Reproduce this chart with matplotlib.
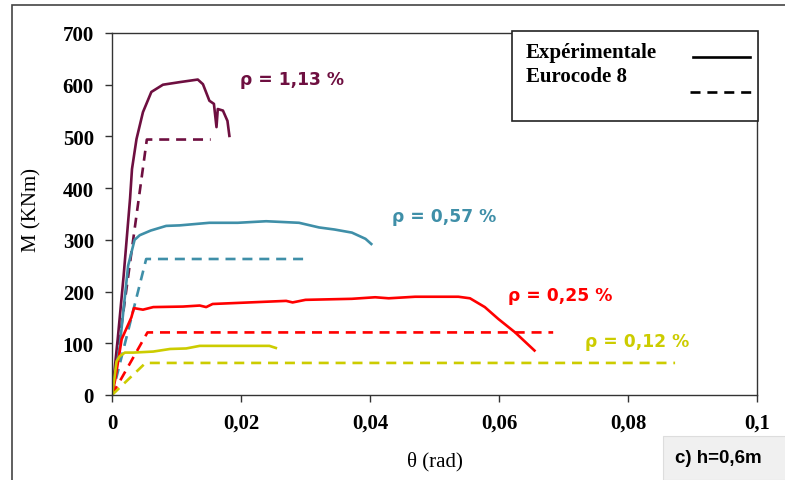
import matplotlib
matplotlib.use("Agg")
import matplotlib.pyplot as plt
from matplotlib.patches import Rectangle
from matplotlib.lines import Line2D

# ---- data ----
th_113 = [0, 0.0009, 0.0018, 0.0028, 0.0031, 0.0038, 0.0048, 0.0061, 0.0079, 0.0105,
          0.0133, 0.0141, 0.0151, 0.0158, 0.0162, 0.0164, 0.0172, 0.0179, 0.0182]
M_113 = [0, 110, 230, 380, 437, 495, 547, 586, 600, 605,
         610, 601, 569, 563, 518, 553, 550, 530, 501]

th_057 = [0, 0.0012, 0.0025, 0.0035, 0.0043, 0.0060, 0.0084, 0.0105, 0.0151, 0.0195,
          0.0239, 0.0290, 0.0321, 0.0345, 0.0372, 0.0393, 0.0402]
M_057 = [0, 95, 250, 300, 309, 318, 327, 328, 333, 333,
         336, 333, 324, 320, 314, 302, 292]

th_025 = [0, 0.0005, 0.0015, 0.0030, 0.0034, 0.0048, 0.0064, 0.0110, 0.0136, 0.0146,
          0.0156, 0.0213, 0.0270, 0.0280, 0.0300, 0.0372, 0.0408, 0.0429, 0.0470, 0.0537,
          0.0555, 0.0578, 0.0599, 0.0625, 0.0655]
M_025 = [0, 30, 108, 150, 168, 165, 170, 171, 173, 170,
         176, 179, 182, 179, 184, 186, 189, 187, 190, 190,
         187, 170, 147, 121, 86]

th_012 = [0, 0.0004, 0.0007, 0.0012, 0.0020, 0.0033, 0.0064, 0.0090, 0.0115, 0.0136,
          0.0187, 0.0244, 0.0254]
M_012 = [0, 35, 65, 75, 82, 82, 84, 89, 90, 95, 95, 95, 91]

# Eurocode 8 bilinear: (yield rotation, yield moment, end rotation)
ec8_113 = (0.0054, 494, 0.0153)
ec8_057 = (0.0053, 263, 0.0302)
ec8_025 = (0.0055, 121, 0.0684)
ec8_012 = (0.0052, 62, 0.0873)

labels = ["ρ = 1,13 %", "ρ = 0,57 %", "ρ = 0,25 %", "ρ = 0,12 %"]
label_pos = [(0.0199, 611), (0.0434, 346), (0.0614, 193), (0.0733, 104)]
colors = ["#6E0F40", "#3F8FA8", "#FF0000", "#CCCC00"]

xticks = [0, 0.02, 0.04, 0.06, 0.08, 0.1]
xticklabels = ["0", "0,02", "0,04", "0,06", "0,08", "0,1"]
yticks = [0, 100, 200, 300, 400, 500, 600, 700]

# ---- figure ----
W, H = 785, 481
fig = plt.figure(figsize=(W / 100, H / 100), dpi=100)
ax = fig.add_axes([112 / W, (H - 396) / H, (757 - 112) / W, (396 - 34) / H])

serif = ["Liberation Serif", "DejaVu Serif"]

exp = [(th_113, M_113), (th_057, M_057), (th_025, M_025), (th_012, M_012)]
ecs = [ec8_113, ec8_057, ec8_025, ec8_012]
for (t, m), (ty, my, te), c, lab, pos in zip(exp, ecs, colors, labels, label_pos):
    ax.plot(t, m, color=c, lw=1.9, solid_joinstyle="round")
    ax.plot([0, ty, te], [0, my, my], color=c, lw=1.9, dashes=[3.8, 2.6])
    ax.text(pos[0], pos[1], lab, color=c, fontsize=12.3, fontweight="bold",
            family="DejaVu Sans", ha="left", va="center")

ax.set_xlim(0, 0.1)
ax.set_ylim(0, 700)
ax.set_xticks(xticks)
ax.set_xticklabels(xticklabels)
ax.set_yticks(yticks)
for lbl in ax.get_xticklabels() + ax.get_yticklabels():
    lbl.set_family(serif)
    lbl.set_fontweight("bold")
    lbl.set_fontsize(15)
ax.tick_params(direction="out", length=5, width=1, color="#333333", pad=8)
for s in ax.spines.values():
    s.set_color("#333333")
    s.set_linewidth(1.0)

ax.set_ylabel("M (KNm)", family=serif, fontsize=15)
ax.set_xlabel("θ (rad)", family=serif, fontsize=15)
ax.yaxis.set_label_coords(-0.11, 0.514)
ax.xaxis.set_label_coords(0.5, -0.155)

# legend box drawn manually
lx0, lx1 = (512 - 112) / 645, (758 - 112) / 645
ly0, ly1 = (396 - 122) / 362, (396 - 32) / 362
ax.add_patch(Rectangle((lx0, ly0), lx1 - lx0, ly1 - ly0, transform=ax.transAxes,
                       facecolor="white", edgecolor="#222222", lw=1.2, clip_on=False, zorder=5))
ax.text((526 - 112) / 645, (396 - 53) / 362, "Expérimentale", transform=ax.transAxes,
        family=serif, fontweight="bold", fontsize=15, va="center", ha="left", zorder=6)
ax.text((526 - 112) / 645, (396 - 77) / 362, "Eurocode 8", transform=ax.transAxes,
        family=serif, fontweight="bold", fontsize=15, va="center", ha="left", zorder=6)
ax.add_line(Line2D([(693 - 112) / 645, (750 - 112) / 645], [(396 - 58) / 362] * 2,
                   transform=ax.transAxes, color="black", lw=1.9, clip_on=False, zorder=6))
ax.add_line(Line2D([(690 - 112) / 645, (751 - 112) / 645], [(396 - 93) / 362] * 2,
                   transform=ax.transAxes, color="black", lw=1.9, dashes=[3.8, 2.6],
                   clip_on=False, zorder=6))

# outer frame
fig.add_artist(Rectangle((12 / W, -0.1), 1.2, (H - 6) / H + 0.1, transform=fig.transFigure,
                         facecolor="none", edgecolor="#444444", lw=1.2))

# caption box
fig.add_artist(Rectangle((663 / W, 0), (W - 663) / W + 0.01, 44 / H, transform=fig.transFigure,
                         facecolor="#F0F0F0", edgecolor="#DDDDDD", lw=0.8))
fig.text(675 / W, (H - 459) / H, "c) h=0,6m", family=["Liberation Sans", "DejaVu Sans"],
         fontweight="bold", fontsize=13.5, va="center", ha="left")

fig.savefig("out.png", dpi=100)
